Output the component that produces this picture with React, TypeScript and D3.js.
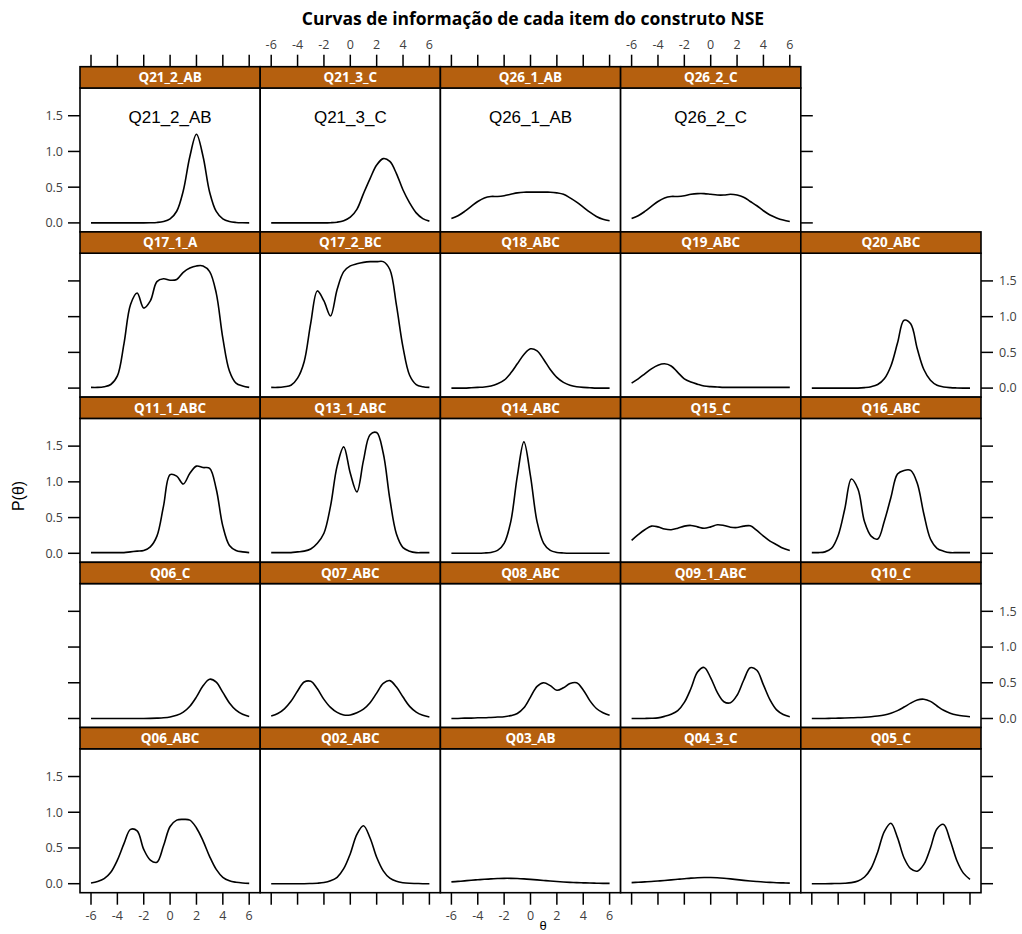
import React, { useEffect, useRef } from 'react';
import * as d3 from 'd3';

const THETA = [-6, -5.5, -5, -4.5, -4, -3.5, -3, -2.5, -2, -1.5, -1, -0.5, 0, 0.5, 1, 1.5, 2, 2.5, 3, 3.5, 4, 4.5, 5, 5.5, 6];
const X_TICKS = [-6, -4, -2, 0, 2, 4, 6];
const Y_TICKS = [0, 0.5, 1, 1.5];

// panel rows, top to bottom
const ITEM_ROWS = [
    ['Q21_2_AB', 'Q21_3_C', 'Q26_1_AB', 'Q26_2_C'],
    ['Q17_1_A', 'Q17_2_BC', 'Q18_ABC', 'Q19_ABC', 'Q20_ABC'],
    ['Q11_1_ABC', 'Q13_1_ABC', 'Q14_ABC', 'Q15_C', 'Q16_ABC'],
    ['Q06_C', 'Q07_ABC', 'Q08_ABC', 'Q09_1_ABC', 'Q10_C'],
    ['Q06_ABC', 'Q02_ABC', 'Q03_AB', 'Q04_3_C', 'Q05_C'],
];

// information values at each THETA point
const q21_2_AB = [0, 0, 0, 0, 0, 0, 0, 0, 0, 0.002, 0.006, 0.019, 0.056, 0.163, 0.45, 0.93, 1.24, 0.93, 0.43, 0.16, 0.056, 0.019, 0.006, 0.002, 0.001];
const q21_3_C = [0, 0, 0, 0, 0, 0, 0, 0, 0, 0.003, 0.01, 0.03, 0.08, 0.19, 0.41, 0.62, 0.81, 0.90, 0.86, 0.69, 0.46, 0.28, 0.14, 0.06, 0.025];
const q26_1_AB = [0.06, 0.10, 0.16, 0.23, 0.30, 0.35, 0.37, 0.37, 0.38, 0.40, 0.42, 0.43, 0.43, 0.43, 0.43, 0.43, 0.42, 0.40, 0.35, 0.29, 0.22, 0.15, 0.09, 0.05, 0.03];
const q26_2_C = [0.06, 0.10, 0.16, 0.23, 0.30, 0.35, 0.37, 0.37, 0.38, 0.40, 0.41, 0.41, 0.40, 0.39, 0.39, 0.40, 0.39, 0.36, 0.30, 0.24, 0.17, 0.11, 0.07, 0.04, 0.02];

const q17_1_A = [0.01, 0.01, 0.02, 0.05, 0.17, 0.62, 1.17, 1.33, 1.12, 1.22, 1.49, 1.53, 1.51, 1.52, 1.62, 1.68, 1.71, 1.71, 1.63, 1.33, 0.70, 0.24, 0.07, 0.03, 0.01];
const q17_2_BC = [0.01, 0.01, 0.02, 0.04, 0.14, 0.37, 0.91, 1.36, 1.22, 1.01, 1.38, 1.63, 1.71, 1.74, 1.76, 1.77, 1.77, 1.77, 1.66, 1.16, 0.57, 0.18, 0.05, 0.02, 0.01];
const q18_ABC = [0, 0, 0, 0.005, 0.01, 0.015, 0.03, 0.06, 0.11, 0.21, 0.34, 0.47, 0.55, 0.52, 0.40, 0.26, 0.15, 0.08, 0.04, 0.02, 0.01, 0.005, 0, 0, 0];
const q19_ABC = [0.07, 0.13, 0.20, 0.27, 0.32, 0.34, 0.31, 0.22, 0.13, 0.085, 0.055, 0.03, 0.02, 0.015, 0.01, 0.01, 0.01, 0.01, 0.01, 0.01, 0.01, 0.01, 0.01, 0.01, 0.01];
const q20_ABC = [0, 0, 0, 0, 0, 0, 0, 0, 0.007, 0.02, 0.05, 0.13, 0.31, 0.63, 0.95, 0.90, 0.55, 0.26, 0.11, 0.04, 0.016, 0.006, 0.002, 0, 0];

const q11_1_ABC = [0.01, 0.01, 0.01, 0.01, 0.01, 0.01, 0.02, 0.03, 0.04, 0.09, 0.24, 0.66, 1.10, 1.08, 0.97, 1.12, 1.22, 1.20, 1.19, 0.90, 0.38, 0.11, 0.04, 0.02, 0.01];
const q13_1_ABC = [0.01, 0.01, 0.01, 0.01, 0.02, 0.03, 0.06, 0.14, 0.28, 0.66, 1.22, 1.49, 1.12, 0.86, 1.30, 1.66, 1.69, 1.40, 0.76, 0.27, 0.08, 0.03, 0.01, 0.01, 0.01];
const q14_ABC = [0, 0, 0, 0, 0, 0.004, 0.012, 0.04, 0.14, 0.44, 1.08, 1.56, 1.08, 0.44, 0.14, 0.04, 0.012, 0.004, 0, 0, 0, 0, 0, 0, 0];
const q15_C = [0.18, 0.26, 0.33, 0.38, 0.37, 0.34, 0.33, 0.35, 0.38, 0.39, 0.37, 0.35, 0.37, 0.40, 0.39, 0.365, 0.36, 0.38, 0.385, 0.32, 0.24, 0.17, 0.12, 0.07, 0.04];
const q16_ABC = [0.01, 0.01, 0.02, 0.07, 0.25, 0.62, 1.04, 0.90, 0.44, 0.24, 0.20, 0.45, 0.78, 1.11, 1.16, 1.16, 0.98, 0.55, 0.20, 0.07, 0.03, 0.01, 0.01, 0.01, 0.01];

const q06_C = [0, 0, 0, 0, 0, 0, 0, 0, 0, 0.002, 0.005, 0.01, 0.021, 0.044, 0.089, 0.172, 0.302, 0.457, 0.55, 0.508, 0.365, 0.218, 0.117, 0.059, 0.029];
const q07_ABC = [0.035, 0.069, 0.135, 0.241, 0.385, 0.51, 0.52, 0.415, 0.268, 0.155, 0.085, 0.05, 0.05, 0.08, 0.13, 0.22, 0.355, 0.49, 0.53, 0.44, 0.30, 0.17, 0.09, 0.045, 0.022];
const q08_ABC = [0, 0, 0.005, 0.005, 0.01, 0.01, 0.015, 0.02, 0.025, 0.04, 0.07, 0.15, 0.30, 0.45, 0.50, 0.46, 0.395, 0.43, 0.49, 0.50, 0.40, 0.25, 0.14, 0.08, 0.045];
const q09_1_ABC = [0, 0, 0.001, 0.003, 0.009, 0.03, 0.06, 0.11, 0.225, 0.42, 0.65, 0.715, 0.57, 0.365, 0.235, 0.22, 0.325, 0.535, 0.71, 0.675, 0.47, 0.26, 0.12, 0.056, 0.025];
const q10_C = [0, 0, 0, 0.003, 0.005, 0.007, 0.01, 0.013, 0.018, 0.025, 0.035, 0.05, 0.075, 0.11, 0.16, 0.215, 0.26, 0.27, 0.24, 0.175, 0.115, 0.075, 0.05, 0.035, 0.025];

const q06_ABC = [0.01, 0.03, 0.07, 0.16, 0.33, 0.56, 0.76, 0.74, 0.48, 0.33, 0.30, 0.53, 0.80, 0.89, 0.90, 0.89, 0.78, 0.60, 0.38, 0.20, 0.09, 0.04, 0.02, 0.01, 0.005];
const q02_ABC = [0, 0, 0, 0, 0, 0, 0.003, 0.007, 0.016, 0.04, 0.09, 0.21, 0.42, 0.69, 0.81, 0.64, 0.37, 0.18, 0.077, 0.033, 0.014, 0.006, 0.003, 0, 0];
const q03_AB = [0.025, 0.032, 0.04, 0.048, 0.055, 0.062, 0.068, 0.072, 0.075, 0.075, 0.073, 0.068, 0.061, 0.053, 0.045, 0.037, 0.03, 0.024, 0.019, 0.015, 0.012, 0.009, 0.007, 0.005, 0.004];
const q04_3_C = [0.015, 0.02, 0.025, 0.03, 0.037, 0.045, 0.053, 0.062, 0.07, 0.078, 0.084, 0.087, 0.087, 0.083, 0.076, 0.067, 0.057, 0.047, 0.038, 0.03, 0.023, 0.018, 0.014, 0.011, 0.008];
const q05_C = [0, 0, 0, 0.001, 0.003, 0.006, 0.015, 0.039, 0.094, 0.216, 0.445, 0.73, 0.845, 0.645, 0.36, 0.21, 0.175, 0.27, 0.50, 0.77, 0.83, 0.605, 0.325, 0.148, 0.062];

const INFO: Record<string, number[]> = {
    Q21_2_AB: q21_2_AB, Q21_3_C: q21_3_C, Q26_1_AB: q26_1_AB, Q26_2_C: q26_2_C,
    Q17_1_A: q17_1_A, Q17_2_BC: q17_2_BC, Q18_ABC: q18_ABC, Q19_ABC: q19_ABC, Q20_ABC: q20_ABC,
    Q11_1_ABC: q11_1_ABC, Q13_1_ABC: q13_1_ABC, Q14_ABC: q14_ABC, Q15_C: q15_C, Q16_ABC: q16_ABC,
    Q06_C: q06_C, Q07_ABC: q07_ABC, Q08_ABC: q08_ABC, Q09_1_ABC: q09_1_ABC, Q10_C: q10_C,
    Q06_ABC: q06_ABC, Q02_ABC: q02_ABC, Q03_AB: q03_AB, Q04_3_C: q04_3_C, Q05_C: q05_C,
};

const W = 1022;
const H = 934;
const LEFT = 80;
const COL_W = 180.2;
const TOP = 66.7;
const ROW_H = 165.2;
const STRIP_H = 21.3;
const TICK = 12;
const STRIP_FILL = '#b5600f';
const LABEL_FONT = '"Open Sans", sans-serif';
const TICK_FONT_SIZE = '12.5px';
const fmtY = d3.format('.1f');

const App = () => {
    const ref = useRef<SVGSVGElement>(null);

    useEffect(() => {
        const svg = d3.select(ref.current);
        svg.selectAll('*').remove();

        const nRows = ITEM_ROWS.length;
        const bottom = TOP + nRows * ROW_H;

        svg.append('text')
            .attr('x', 533)
            .attr('y', 25)
            .attr('text-anchor', 'middle')
            .style('font-family', LABEL_FONT)
            .style('font-weight', 700)
            .style('font-size', '17.5px')
            .text('Curvas de informação de cada item do construto NSE');

        const line = d3.line<number>().curve(d3.curveCatmullRom);

        ITEM_ROWS.forEach((items, r) => {
            const y0 = TOP + r * ROW_H;
            const yScale = d3.scaleLinear().domain([-0.126, 1.888]).range([y0 + ROW_H, y0 + STRIP_H]);

            items.forEach((name, c) => {
                const x0 = LEFT + c * COL_W;
                const xScale = d3.scaleLinear().domain([-6.835, 6.835]).range([x0, x0 + COL_W]);
                const g = svg.append('g');

                g.append('rect')
                    .attr('x', x0).attr('y', y0 + STRIP_H)
                    .attr('width', COL_W).attr('height', ROW_H - STRIP_H)
                    .attr('fill', '#fff').attr('stroke', '#000').attr('stroke-width', 1.6);
                g.append('rect')
                    .attr('x', x0).attr('y', y0)
                    .attr('width', COL_W).attr('height', STRIP_H)
                    .attr('fill', STRIP_FILL).attr('stroke', '#000').attr('stroke-width', 1.6);
                g.append('text')
                    .attr('x', x0 + COL_W / 2).attr('y', y0 + 15.5)
                    .attr('text-anchor', 'middle')
                    .attr('fill', '#fff')
                    .style('font-family', LABEL_FONT)
                    .style('font-weight', 700)
                    .style('font-size', '13.5px')
                    .text(name);

                if (r === 0) {
                    g.append('text')
                        .attr('x', x0 + COL_W / 2).attr('y', y0 + 56.5)
                        .attr('text-anchor', 'middle')
                        .style('font-family', '"Liberation Sans", Arial, sans-serif')
                        .style('font-size', '17px')
                        .text(name);
                }

                const vals = INFO[name];
                g.append('path')
                    .attr('d', line.x((d, i) => xScale(THETA[i])).y(d => yScale(d))(vals))
                    .attr('fill', 'none')
                    .attr('stroke', '#000')
                    .attr('stroke-width', 1.6);

                // top axis above the first row
                if (r === 0) {
                    X_TICKS.forEach(t => {
                        g.append('line')
                            .attr('x1', xScale(t)).attr('x2', xScale(t))
                            .attr('y1', y0 - TICK).attr('y2', y0)
                            .attr('stroke', '#000').attr('stroke-width', 1.5);
                        if (c % 2 === 1) {
                            g.append('text')
                                .attr('x', xScale(t)).attr('y', y0 - 18)
                                .attr('text-anchor', 'middle')
                                .attr('fill', '#404040')
                                .style('font-family', LABEL_FONT)
                                .style('font-size', TICK_FONT_SIZE)
                                .text(t);
                        }
                    });
                }

                // bottom axis
                if (r === nRows - 1) {
                    X_TICKS.forEach(t => {
                        g.append('line')
                            .attr('x1', xScale(t)).attr('x2', xScale(t))
                            .attr('y1', bottom).attr('y2', bottom + TICK)
                            .attr('stroke', '#000').attr('stroke-width', 1.5);
                        if (c === 0 || c === 2) {
                            g.append('text')
                                .attr('x', xScale(t)).attr('y', bottom + 27)
                                .attr('text-anchor', 'middle')
                                .attr('fill', '#404040')
                                .style('font-family', LABEL_FONT)
                                .style('font-size', TICK_FONT_SIZE)
                                .text(t);
                        }
                    });
                }
            });

            // left and right y axes
            const xRight = LEFT + items.length * COL_W;
            Y_TICKS.forEach(t => {
                svg.append('line')
                    .attr('x1', LEFT - TICK).attr('x2', LEFT)
                    .attr('y1', yScale(t)).attr('y2', yScale(t))
                    .attr('stroke', '#000').attr('stroke-width', 1.5);
                svg.append('line')
                    .attr('x1', xRight).attr('x2', xRight + TICK)
                    .attr('y1', yScale(t)).attr('y2', yScale(t))
                    .attr('stroke', '#000').attr('stroke-width', 1.5);
                if (r % 2 === 0) {
                    svg.append('text')
                        .attr('x', LEFT - 17).attr('y', yScale(t))
                        .attr('dy', '0.35em')
                        .attr('text-anchor', 'end')
                        .attr('fill', '#404040')
                        .style('font-family', LABEL_FONT)
                        .style('font-size', TICK_FONT_SIZE)
                        .text(fmtY(t));
                } else {
                    svg.append('text')
                        .attr('x', xRight + 18).attr('y', yScale(t))
                        .attr('dy', '0.35em')
                        .attr('text-anchor', 'start')
                        .attr('fill', '#404040')
                        .style('font-family', LABEL_FONT)
                        .style('font-size', TICK_FONT_SIZE)
                        .text(fmtY(t));
                }
            });
        });

        svg.append('text')
            .attr('transform', 'translate(24,496) rotate(-90)')
            .attr('text-anchor', 'middle')
            .style('font-family', '"Liberation Sans", Arial, sans-serif')
            .style('font-size', '16px')
            .text('P(θ)');

        svg.append('text')
            .attr('x', 543).attr('y', 930)
            .attr('text-anchor', 'middle')
            .style('font-family', '"Liberation Sans", Arial, sans-serif')
            .style('font-size', '13px')
            .text('θ');
    }, []);

    return (
        <svg ref={ref} width={W} height={H}
             style={{ position: 'absolute', left: 0, top: 0, background: '#fff' }} />
    );
};

export default App;
